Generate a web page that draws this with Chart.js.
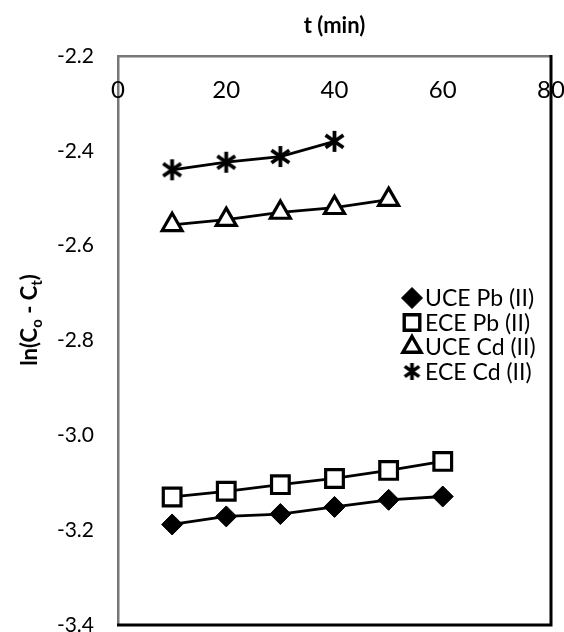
<!DOCTYPE html>
<html>
<head>
<meta charset="utf-8">
<title>ln(Co - Ct) vs t</title>
<script src="https://cdn.jsdelivr.net/npm/chart.js@4.4.1/dist/chart.umd.min.js"></script>
<style>
  html, body { margin: 0; padding: 0; background: #fff; overflow: hidden; }
  canvas { display: block; }
</style>
</head>
<body>
<canvas id="kinetics" width="564" height="632"></canvas>
<script>
// time points (min)
const tPb = [10, 20, 30, 40, 50, 60];
const tUceCd = [10, 20, 30, 40, 50];
const tEceCd = [10, 20, 30, 40];

// ln(Co - Ct)
const ucePb = [-3.188, -3.171, -3.166, -3.151, -3.136, -3.129];
const ecePb = [-3.130, -3.118, -3.104, -3.091, -3.074, -3.055];
const uceCd = [-2.556, -2.545, -2.530, -2.520, -2.503];
const eceCd = [-2.440, -2.424, -2.412, -2.380];

const seriesNames = ['UCE Pb (II)', 'ECE Pb (II)', 'UCE Cd (II)', 'ECE Cd (II)'];

const FONT = 'Lato, "Open Sans", sans-serif';

// excel style star: vertical bar plus an X
function starMarker(size, lw) {
  const c = document.createElement('canvas');
  c.width = size; c.height = size;
  const g = c.getContext('2d');
  const m = size / 2, r = size / 2 - 2;
  g.strokeStyle = '#000';
  g.lineWidth = lw;
  g.beginPath();
  g.moveTo(m, m - r); g.lineTo(m, m + r);
  g.moveTo(m - r * 0.85, m - r * 0.6); g.lineTo(m + r * 0.85, m + r * 0.6);
  g.moveTo(m + r * 0.85, m - r * 0.6); g.lineTo(m - r * 0.85, m + r * 0.6);
  g.stroke();
  return c;
}
const star = starMarker(25, 3.8);
const starSmall = starMarker(21, 3.6);

const toPts = (xs, ys) => xs.map((x, i) => ({ x: x, y: ys[i] }));

function series(label, xs, ys, style, radius, fill) {
  return {
    label: label,
    data: toPts(xs, ys),
    showLine: true,
    borderColor: '#000',
    borderWidth: 2.8,
    pointStyle: style,
    pointRadius: radius,
    pointHoverRadius: radius,
    pointBackgroundColor: fill,
    pointBorderColor: '#000',
    pointBorderWidth: style === 'rectRot' ? 1 : 3.2
  };
}

const datasets = [
  series(seriesNames[0], tPb, ucePb, 'rectRot', 10.5, '#000'),
  series(seriesNames[1], tPb, ecePb, 'rect', 12.5, '#fff'),
  series(seriesNames[2], tUceCd, uceCd, 'triangle', 11.5, '#fff'),
  series(seriesNames[3], tEceCd, eceCd, star, 12, '#000')
];

// legend markers are a bit smaller than the plot markers
const legendMarks = [
  { style: 'rectRot', radius: 10.5, fill: '#000', bw: 1 },
  { style: 'rect', radius: 11, fill: '#fff', bw: 3.4 },
  { style: 'triangle', radius: 10.5, fill: '#fff', bw: 3.4 },
  { style: starSmall, radius: 10, fill: '#000', bw: 0 }
];

const framePlugin = {
  id: 'framePlugin',
  afterDraw(chart) {
    const { ctx, chartArea: a } = chart;
    const xs = chart.scales.x;
    ctx.save();

    // plot area border on right and bottom
    ctx.strokeStyle = '#000';
    ctx.lineWidth = 3;
    ctx.beginPath();
    ctx.moveTo(a.right, a.top - 1);
    ctx.lineTo(a.right, a.bottom);
    ctx.lineTo(a.left - 1, a.bottom);
    ctx.stroke();

    // x tick labels sit inside the plot under the top axis
    ctx.fillStyle = '#000';
    ctx.font = '24px ' + FONT;
    ctx.textAlign = 'center';
    ctx.textBaseline = 'middle';
    xs.ticks.forEach(t => {
      ctx.fillText(t.label, xs.getPixelForValue(t.value), a.top + 34);
    });

    // y title with subscripts
    const big = 'bold 22px ' + FONT, small = 'bold 15px ' + FONT;
    const parts = [['ln(C', big, 0], ['o', small, 5], [' - C', big, 0], ['t', small, 5], [')', big, 0]];
    let w = 0;
    parts.forEach(p => { ctx.font = p[1]; w += ctx.measureText(p[0]).width; });
    ctx.translate(29, 320);
    ctx.rotate(-Math.PI / 2);
    ctx.textAlign = 'left';
    ctx.textBaseline = 'alphabetic';
    let px = -w / 2;
    parts.forEach(p => {
      ctx.font = p[1];
      ctx.fillText(p[0], px, 8 + p[2]);
      px += ctx.measureText(p[0]).width;
    });
    ctx.setTransform(1, 0, 0, 1, 0, 0);

    // legend inside the plot
    ctx.font = '23px ' + FONT;
    ctx.textBaseline = 'middle';
    chart.data.datasets.forEach((ds, i) => {
      const y = 298 + i * 24.5;
      const m = legendMarks[i];
      ctx.fillStyle = m.fill;
      ctx.strokeStyle = '#000';
      ctx.lineWidth = m.bw;
      Chart.helpers.drawPoint(ctx, { pointStyle: m.style, radius: m.radius, borderWidth: m.bw, rotation: 0 }, 412, y);
      ctx.fillStyle = '#000';
      ctx.fillText(ds.label, 425, y + 1);
    });

    ctx.restore();
  }
};

new Chart(document.getElementById('kinetics'), {
  type: 'scatter',
  data: { datasets: datasets },
  options: {
    responsive: false,
    animation: false,
    events: [],
    layout: { autoPadding: false, padding: { top: 0, right: 13, bottom: 7, left: 0 } },
    plugins: { legend: { display: false }, tooltip: { enabled: false } },
    scales: {
      x: {
        type: 'linear',
        position: 'top',
        min: 0,
        max: 80,
        ticks: { stepSize: 20, display: false },
        grid: { display: false, drawTicks: false },
        border: { display: true, color: '#777', width: 2.5 },
        title: {
          display: true,
          text: 't (min)',
          color: '#000',
          font: { family: FONT, size: 22, weight: 'bold' },
          padding: { top: 13, bottom: 0 }
        },
        afterFit(scale) {
          scale.height = 56;
          scale.paddingLeft = 0;
          scale.paddingRight = 0;
        }
      },
      y: {
        min: -3.4,
        max: -2.2,
        ticks: {
          stepSize: 0.2,
          padding: 24,
          color: '#000',
          font: { family: FONT, size: 21 },
          callback: v => v.toFixed(1)
        },
        grid: { display: false, drawTicks: false },
        border: { display: true, color: '#777', width: 2.5 },
        afterFit(scale) {
          scale.width = 118;
          scale.paddingTop = 0;
          scale.paddingBottom = 0;
        }
      }
    }
  },
  plugins: [framePlugin]
});
</script>
</body>
</html>
